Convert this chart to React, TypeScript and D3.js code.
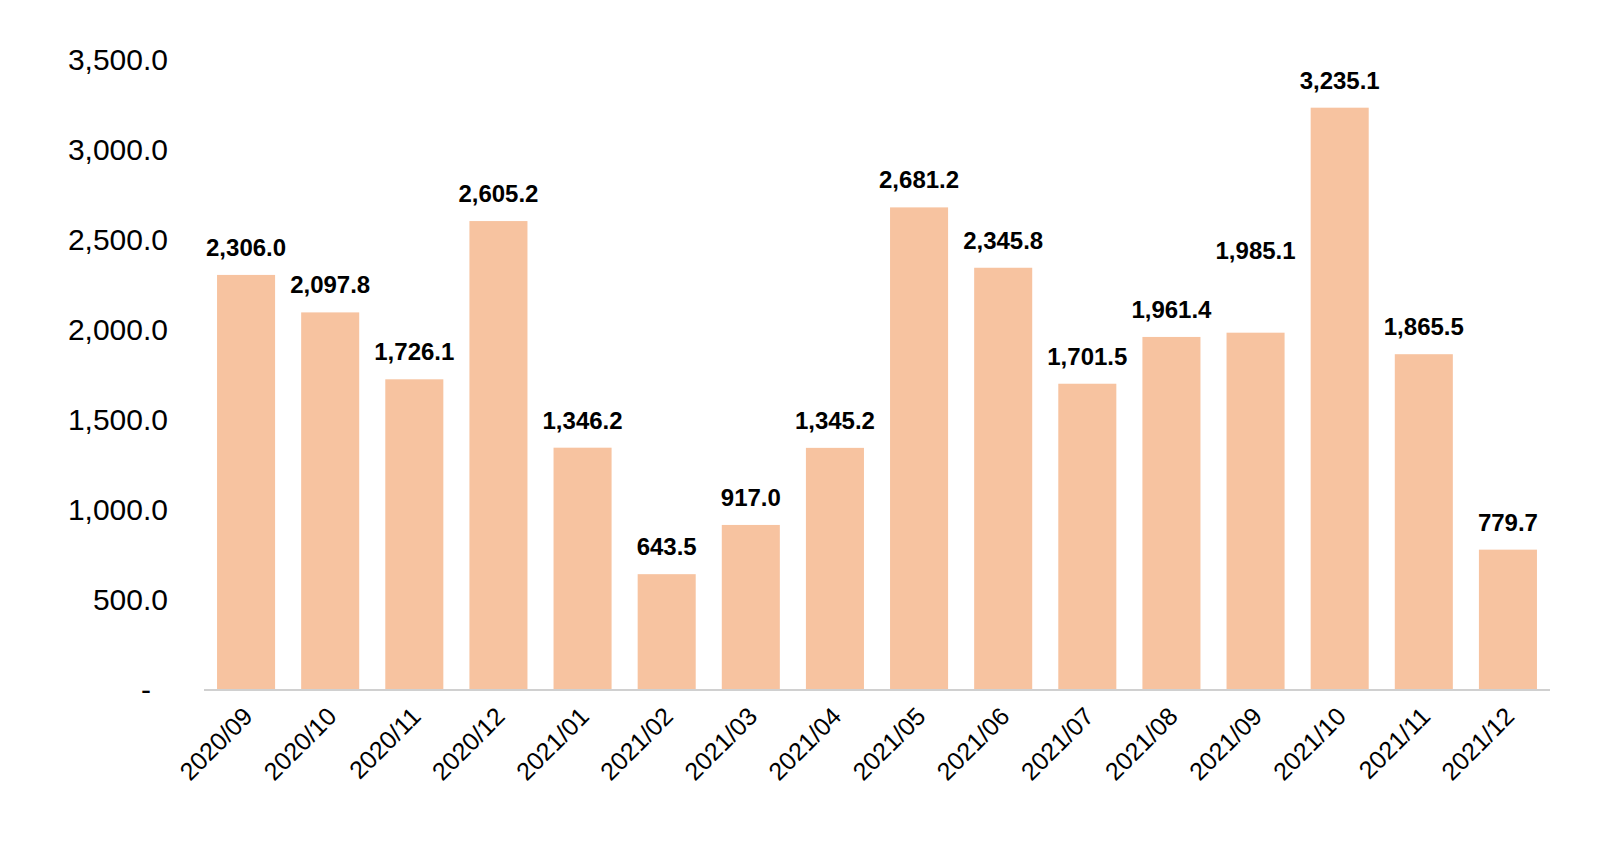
import * as d3 from "d3";
import { useRef, useEffect } from "react";

// monthly values
const months = [
    "2020/09", "2020/10", "2020/11", "2020/12", "2021/01", "2021/02", "2021/03", "2021/04",
    "2021/05", "2021/06", "2021/07", "2021/08", "2021/09", "2021/10", "2021/11", "2021/12",
];
const values = [
    2306.0, 2097.8, 1726.1, 2605.2, 1346.2, 643.5, 917.0, 1345.2,
    2681.2, 2345.8, 1701.5, 1961.4, 1985.1, 3235.1, 1865.5, 779.7,
];
const yTicks = [0, 500, 1000, 1500, 2000, 2500, 3000, 3500];

// label for 2021/09 sits higher than the others in the original
const extraLift: Record<string, number> = { "2021/09": 55 };

export default function App() {
    const ref = useRef<SVGSVGElement>(null);

    const width = 1600;
    const height = 847;
    const marginLeft = 204;
    const marginRight = 50;
    const marginTop = 60;
    const baseline = 690;

    useEffect(() => {
        document.body.style.margin = "0";
        const svg = d3.select(ref.current);
        svg.selectAll("*").remove();

        const font = "Arial, 'Liberation Sans', sans-serif";

        const x = d3.scaleBand()
            .domain(months)
            .range([marginLeft, width - marginRight])
            .paddingInner(0.31)
            .paddingOuter(0.155);

        const y = d3.scaleLinear()
            .domain([0, 3500])
            .range([baseline, marginTop]);

        // bars
        svg.append("g")
            .attr("fill", "#F7C3A0")
            .selectAll()
            .data(months)
            .join("rect")
                .attr("x", d => x(d))
                .attr("y", (d, i) => y(values[i]))
                .attr("width", x.bandwidth())
                .attr("height", (d, i) => y(0) - y(values[i]));

        // x axis
        const xAxis = svg.append("g")
            .attr("transform", `translate(0,${baseline})`)
            .call(d3.axisBottom(x).tickSize(0).tickSizeOuter(0));
        xAxis.select(".domain")
            .attr("stroke", "#D0D0D0")
            .attr("stroke-width", 2)
            .attr("d", `M${marginLeft},0H${width - marginRight}`);
        xAxis.selectAll("text")
            .attr("font-family", font)
            .attr("font-size", 25)
            .attr("fill", "#000")
            .attr("text-anchor", "end")
            .attr("dy", null)
            .attr("y", 0)
            .attr("transform", "translate(8,28) rotate(-45)");

        // y axis
        const yAxis = svg.append("g")
            .attr("transform", `translate(168,0)`)
            .call(d3.axisLeft(y).tickValues(yTicks).tickSize(0)
                .tickFormat(v => +v === 0 ? "-" : d3.format(",.1f")(+v)));
        yAxis.select(".domain").remove();
        yAxis.selectAll("text")
            .attr("font-family", font)
            .attr("font-size", 30)
            .attr("fill", "#000")
            .attr("x", (d: any) => d === 0 ? -17 : 0);

        // value labels
        svg.append("g")
            .attr("font-family", font)
            .attr("font-size", 24)
            .attr("font-weight", "bold")
            .attr("text-anchor", "middle")
            .selectAll()
            .data(months)
            .join("text")
                .attr("x", d => x(d)! + x.bandwidth() / 2)
                .attr("y", (d, i) => y(values[i]) - 19 - (extraLift[d] || 0))
                .text((d, i) => d3.format(",.1f")(values[i]));
    }, []);

    return (
        <svg ref={ref} width={width} height={height} style={{ display: "block", background: "#fff" }} />
    );
}
